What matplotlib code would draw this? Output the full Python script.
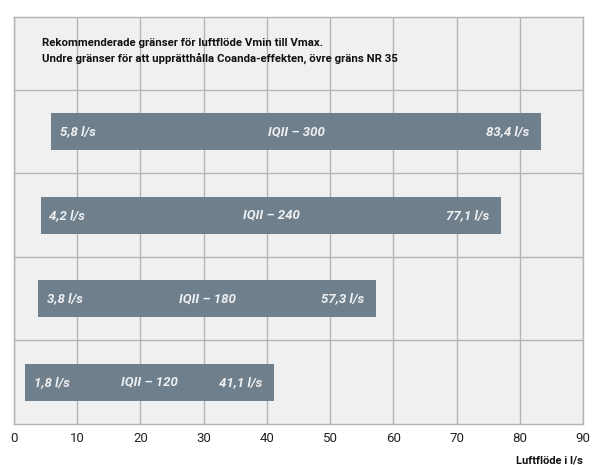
import matplotlib.pyplot as plt

# Data
models = ["IQII – 300", "IQII – 240", "IQII – 180", "IQII – 120"]
vmin = [5.8, 4.2, 3.8, 1.8]
vmax = [83.4, 77.1, 57.3, 41.1]
min_labels = ["5,8 l/s", "4,2 l/s", "3,8 l/s", "1,8 l/s"]
max_labels = ["83,4 l/s", "77,1 l/s", "57,3 l/s", "41,1 l/s"]
xticks = [0, 10, 20, 30, 40, 50, 60, 70, 80, 90]

bar_color = "#6f7f8c"
bg_color = "#f0f0f0"
grid_color = "#b4b4b4"
label_color = "#eef0f2"

fig = plt.figure(figsize=(5.95, 4.65), dpi=100)
ax = fig.add_axes([14 / 595, 1 - 424 / 465, 569 / 595, 407 / 465])
ax.set_facecolor(bg_color)

rows = list(range(len(models)))
ax.barh(rows, [hi - lo for lo, hi in zip(vmin, vmax)], left=vmin,
        height=0.44, color=bar_color, zorder=3)

# labels sit a little inside the bar ends
for i in rows:
    ax.text(vmin[i] + 1.4, i, min_labels[i], color=label_color, fontsize=9.5,
            fontstyle="italic", fontweight="bold", family="Roboto",
            ha="left", va="center", zorder=4)
    ax.text((vmin[i] + vmax[i]) / 2, i, models[i], color=label_color, fontsize=9.5,
            fontstyle="italic", fontweight="bold", family="Roboto",
            ha="center", va="center", zorder=4)
    ax.text(vmax[i] - 1.9, i, max_labels[i], color=label_color, fontsize=9.5,
            fontstyle="italic", fontweight="bold", family="Roboto",
            ha="right", va="center", zorder=4)

ax.set_xlim(0, 90)
ax.set_ylim(3.5, -0.5 - 73 / 83.5)
ax.set_xticks(xticks)
ax.set_yticks([])
ax.xaxis.grid(True, color=grid_color, linewidth=1, zorder=1)
for y in [-0.5, 0.5, 1.5, 2.5]:
    ax.axhline(y, color=grid_color, linewidth=1, zorder=1)
for s in ax.spines.values():
    s.set_color(grid_color)
    s.set_linewidth(1)
ax.tick_params(axis="x", length=0, pad=6, labelsize=9.5, labelcolor="#222222")
for lbl in ax.get_xticklabels():
    lbl.set_family("Roboto")

fig.text(42 / 595, 1 - 51 / 465,
         "Rekommenderade gränser för luftflöde Vmin till Vmax.\n"
         "Undre gränser för att upprätthålla Coanda-effekten, övre gräns NR 35",
         fontsize=8.2, fontweight="bold", family="Roboto", color="#111111",
         ha="left", va="center", linespacing=1.5)
fig.text(583 / 595, 1 - 460 / 465, "Luftflöde i l/s", fontsize=8,
         fontweight="bold", family="Roboto", color="#111111",
         ha="right", va="center")

fig.savefig("out.png", dpi=100, facecolor="white")
